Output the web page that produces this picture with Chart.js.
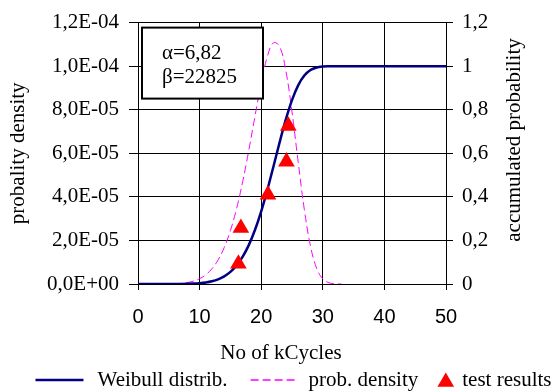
<!DOCTYPE html>
<html><head><meta charset="utf-8">
<script src="https://cdn.jsdelivr.net/npm/chart.js@4.4.1/dist/chart.umd.min.js"></script>
<style>html,body{margin:0;padding:0;background:#fff;}#wrap{width:552px;height:392px;}</style>
</head><body><div id="wrap"><canvas id="c" width="552" height="392"></canvas></div>
<script>
// ---- data ----
const cdfX = [0,1,2,3,4,5,6,7,8,9,10,11,12,13,14,15,16,17,18,19,20,21,22,23,24,25,26,27,28,29,30,31,32,33,34,35,36,37,38,39,40,41,42,43,44,45,46,47,48,49,50];
const cdfY = [0,0,0.0000001,0.000001,0.000007,0.000032,0.00011,0.00032,0.00078,0.00175,0.00359,0.00686,0.01239,0.02128,0.03504,0.05549,0.08484,0.12546,0.1796,0.24893,0.33379,0.43246,0.54066,0.65126,0.75541,0.84438,0.91204,0.95691,0.98221,0.99402,0.99842,0.99969,0.99996,1,1,1,1,1,1,1,1,1,1,1,1,1,1,1,1,1,1];
const densX = [0,1,2,3,4,5,6,7,8,9,10,11,12,13,14,15,16,17,18,19,20,21,22,23,24,25,26,27,28,29,30,31,32,33];
const densY = [0,0,0,2.2e-9,1.19e-8,4.34e-8,1.25e-7,3.08e-7,6.69e-7,1.33e-6,2.44e-6,4.24e-6,7.00e-6,1.105e-5,1.677e-5,2.452e-5,3.459e-5,4.703e-5,6.154e-5,7.717e-5,9.226e-5,1.044e-4,1.1077e-4,1.0894e-4,9.788e-5,7.899e-5,5.609e-5,3.423e-5,1.745e-5,7.21e-6,2.32e-6,5.6e-7,9.5e-8,1.1e-8];
const testX = [16.3, 16.7, 21.1, 24.1, 24.4];
const testY = [0.093, 0.257, 0.41, 0.562, 0.726];
const xTickLabels = ['0','10','20','30','40','50'];
const leftTickLabels = ['0,0E+00','2,0E-05','4,0E-05','6,0E-05','8,0E-05','1,0E-04','1,2E-04'];
const rightTickLabels = ['0','0,2','0,4','0,6','0,8','1','1,2'];
const seriesNames = ['Weibull distrib.','prob. density','test results'];
const paramLines = ['\u03B1=6,82','\u03B2=22825'];
const xTitle = 'No of kCycles';
const leftTitle = 'probality density';
const rightTitle = 'accumulated probability';

// ---- styles ----
const SERIF = '"Liberation Serif", "Times New Roman", serif';
const SANS = '"Liberation Sans", Arial, sans-serif';
const NAVY = '#000080', MAGENTA = '#FF00FF', RED = '#FF0000';

const toXY = (xs, ys) => xs.map((x, i) => ({x: x, y: ys[i]}));

const overlay = {
  id: 'overlay',
  afterDatasetsDraw(chart) {
    const ctx = chart.ctx, a = chart.chartArea;
    ctx.save();
    const bx = a.left + 4, by = a.top + 5, bw = 121, bh = 71;
    ctx.fillStyle = '#fff';
    ctx.fillRect(bx, by, bw, bh);
    ctx.lineWidth = 2; ctx.strokeStyle = '#000';
    ctx.strokeRect(bx, by, bw, bh);
    ctx.fillStyle = '#000';
    ctx.font = '21px ' + SERIF;
    ctx.textAlign = 'left'; ctx.textBaseline = 'alphabetic';
    ctx.fillText(paramLines[0], bx + 20, by + 31);
    ctx.fillText(paramLines[1], bx + 20, by + 55);
    ctx.restore();
  },
  afterDraw(chart) {
    const ctx = chart.ctx;
    ctx.save();
    ctx.fillStyle = '#000';
    ctx.font = '21px ' + SERIF;
    // x title
    ctx.textAlign = 'center'; ctx.textBaseline = 'middle';
    ctx.fillText(xTitle, 281, 353);
    // right title (reads bottom to top)
    ctx.save();
    ctx.translate(514, 140);
    ctx.rotate(-Math.PI / 2);
    ctx.fillText(rightTitle, 0, 0);
    ctx.restore();
    // legend
    ctx.font = '21px ' + SERIF;
    const ly = 380;
    const symW = [48, 45, 17];
    const gapSym = [14, 13, 8];
    const gapItem = [23, 19];
    const widths = seriesNames.map(t => ctx.measureText(t).width);
    let total = 0;
    for (let i = 0; i < 3; i++) total += symW[i] + gapSym[i] + widths[i];
    total += gapItem[0] + gapItem[1];
    let x = 293.5 - total / 2;
    ctx.textAlign = 'left'; ctx.textBaseline = 'middle';
    for (let i = 0; i < 3; i++) {
      if (i === 0) {
        ctx.beginPath(); ctx.strokeStyle = NAVY; ctx.lineWidth = 2.5; ctx.setLineDash([]);
        ctx.moveTo(x, ly); ctx.lineTo(x + symW[i], ly); ctx.stroke();
      } else if (i === 1) {
        ctx.beginPath(); ctx.strokeStyle = MAGENTA; ctx.lineWidth = 1.5; ctx.setLineDash([8, 4]);
        ctx.moveTo(x, ly); ctx.lineTo(x + symW[i], ly); ctx.stroke();
        ctx.setLineDash([]);
      } else {
        const r = 9.6, cx = x + symW[i] / 2, cy = ly + 2;
        ctx.beginPath(); ctx.fillStyle = RED;
        ctx.moveTo(cx, cy - r);
        ctx.lineTo(cx + r * Math.sqrt(3) / 2, cy + r / 2);
        ctx.lineTo(cx - r * Math.sqrt(3) / 2, cy + r / 2);
        ctx.closePath(); ctx.fill();
      }
      x += symW[i] + gapSym[i];
      ctx.fillStyle = '#000';
      ctx.fillText(seriesNames[i], x, ly);
      x += widths[i] + (i < 2 ? gapItem[i] : 0);
    }
    ctx.restore();
  }
};

new Chart(document.getElementById('c'), {
  type: 'line',
  data: {
    datasets: [
      {
        label: seriesNames[2], type: 'scatter', data: toXY(testX, testY), yAxisID: 'y1',
        pointStyle: 'triangle', pointRadius: 9.6, pointBackgroundColor: RED, pointBorderWidth: 0,
        showLine: false, order: 0
      },
      {
        label: seriesNames[0], data: toXY(cdfX, cdfY), yAxisID: 'y1',
        borderColor: NAVY, borderWidth: 2.5, pointRadius: 0, fill: false,
        cubicInterpolationMode: 'monotone', order: 1
      },
      {
        label: seriesNames[1], data: toXY(densX, densY), yAxisID: 'y',
        borderColor: MAGENTA, borderWidth: 1, borderDash: [8, 4], pointRadius: 0, fill: false,
        tension: 0.4, order: 2
      }
    ]
  },
  options: {
    responsive: false, animation: false, devicePixelRatio: 1,
    layout: {padding: {top: 22, left: 0, right: 0, bottom: 0}},
    plugins: {legend: {display: false}, tooltip: {enabled: false}},
    scales: {
      x: {
        type: 'linear', min: 0, max: 50,
        ticks: {stepSize: 10, color: '#000', font: {family: SANS, size: 20}, padding: 15,
          callback: v => xTickLabels[Math.round(v / 10)]},
        grid: {color: '#000', lineWidth: 1, tickLength: 6},
        border: {color: '#000', width: 1},
        afterFit: s => { s.height = 108; }
      },
      y: {
        position: 'left', min: 0, max: 1.2e-4,
        ticks: {stepSize: 2e-5, color: '#000', font: {family: SERIF, size: 21}, padding: 10,
          callback: v => leftTickLabels[Math.round(v / 2e-5)]},
        grid: {color: '#000', lineWidth: 1, tickLength: 9},
        border: {color: '#000', width: 1},
        title: {display: true, text: leftTitle, color: '#000', font: {family: SERIF, size: 21}, padding: {top: 6, bottom: 0}},
        afterFit: s => { s.width = 138; }
      },
      y1: {
        position: 'right', min: 0, max: 1.2,
        ticks: {stepSize: 0.2, color: '#000', font: {family: SERIF, size: 21}, padding: 9,
          callback: v => rightTickLabels[Math.round(v / 0.2)]},
        grid: {drawOnChartArea: false, color: '#000', tickLength: 7},
        border: {color: '#000', width: 1},
        afterFit: s => { s.width = 106; }
      }
    }
  },
  plugins: [overlay]
});
</script></body></html>
